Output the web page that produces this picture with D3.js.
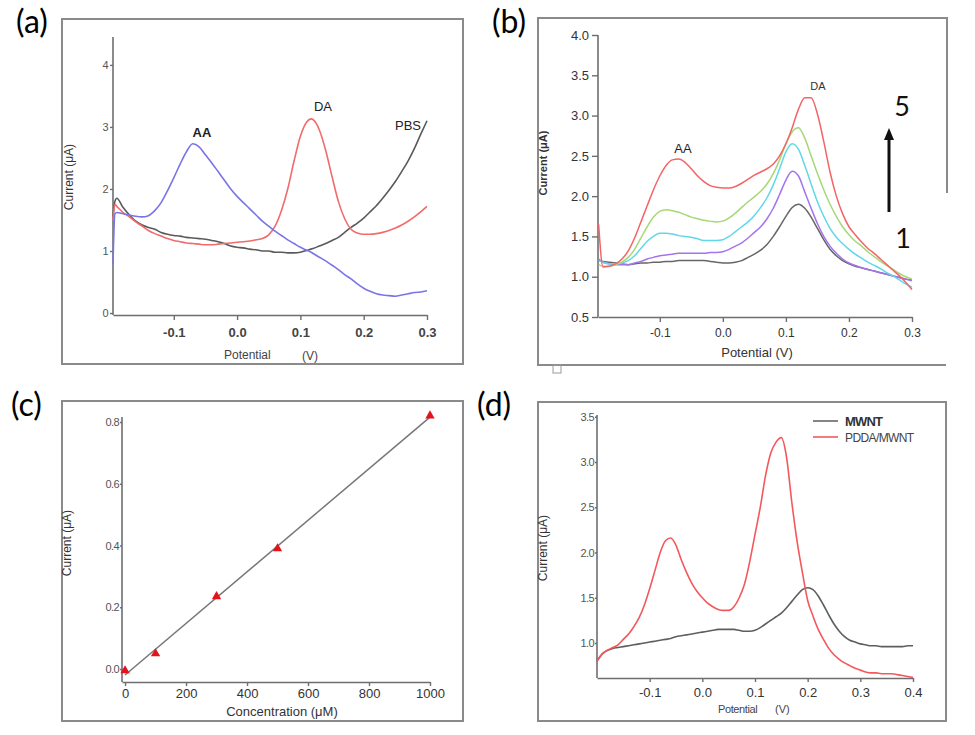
<!DOCTYPE html>
<html>
<head>
<meta charset="utf-8">
<script src="https://cdn.jsdelivr.net/npm/d3@7"></script>
<style>
body { margin: 0; background: #fff; }
text { font-family: "Liberation Sans", Arial, sans-serif; }
</style>
</head>
<body>
<div id="chart-area"></div>
<script>
// ---- panel (a): AA, DA and PBS alone ----
var aPot = [-0.196,-0.193,-0.19,-0.18,-0.17,-0.16,-0.15,-0.14,-0.13,-0.12,-0.11,-0.10,-0.09,-0.08,-0.07,-0.06,-0.05,-0.04,-0.03,-0.02,-0.01,
  0.00,0.01,0.02,0.03,0.04,0.05,0.06,0.07,0.08,0.09,0.10,0.11,0.117,0.12,0.13,0.14,0.15,0.16,0.17,0.18,0.19,0.20,0.21,0.22,0.23,0.24,0.25,0.26,0.27,0.28,0.29,0.30];
var aAA  = [0.80,1.60,1.62,1.60,1.58,1.56,1.55,1.57,1.65,1.78,1.97,2.18,2.40,2.60,2.73,2.68,2.55,2.42,2.28,2.14,2.00,
  1.88,1.78,1.68,1.58,1.48,1.40,1.32,1.25,1.18,1.12,1.06,1.01,0.98,0.96,0.90,0.84,0.77,0.70,0.62,0.55,0.47,0.40,0.35,0.31,0.29,0.28,0.27,0.29,0.31,0.33,0.34,0.36];
var aDA  = [1.50,1.75,1.72,1.62,1.55,1.47,1.40,1.33,1.28,1.24,1.20,1.17,1.15,1.13,1.12,1.11,1.10,1.10,1.11,1.12,1.13,
  1.14,1.15,1.16,1.18,1.20,1.26,1.40,1.65,2.00,2.45,2.85,3.08,3.13,3.12,2.95,2.62,2.20,1.80,1.52,1.35,1.29,1.27,1.27,1.28,1.30,1.33,1.37,1.42,1.48,1.55,1.63,1.72];
var aPBS = [1.55,1.80,1.85,1.70,1.58,1.48,1.42,1.38,1.35,1.30,1.27,1.25,1.24,1.22,1.21,1.20,1.19,1.17,1.15,1.12,1.08,
  1.06,1.05,1.03,1.02,1.00,1.00,0.98,0.98,0.97,0.97,0.98,1.01,1.03,1.04,1.08,1.12,1.17,1.22,1.30,1.38,1.45,1.53,1.63,1.73,1.85,1.98,2.12,2.28,2.45,2.65,2.88,3.10];
var aXTicks = [-0.1, 0.0, 0.1, 0.2, 0.3];
var aYTicks = [0, 1, 2, 3, 4];

// ---- panel (b): increasing concentrations 1..5 ----
var bPot = [-0.197,-0.19,-0.18,-0.17,-0.16,-0.15,-0.14,-0.13,-0.12,-0.11,-0.10,-0.09,-0.08,-0.07,-0.06,-0.05,-0.04,-0.03,-0.02,-0.01,
  0.00,0.01,0.02,0.03,0.04,0.05,0.06,0.07,0.08,0.09,0.10,0.11,0.12,0.13,0.14,0.15,0.16,0.17,0.18,0.19,0.20,0.21,0.22,0.23,0.24,0.25,0.26,0.27,0.28,0.29,0.30];
var b1 = [1.20,1.19,1.18,1.17,1.16,1.15,1.16,1.17,1.17,1.18,1.18,1.19,1.19,1.20,1.20,1.20,1.20,1.20,1.19,1.18,
  1.17,1.17,1.18,1.20,1.24,1.28,1.33,1.40,1.50,1.62,1.75,1.86,1.90,1.85,1.74,1.60,1.46,1.34,1.26,1.20,1.16,1.13,1.11,1.09,1.07,1.05,1.03,1.01,0.99,0.97,0.96];
var b2 = [1.22,1.18,1.16,1.15,1.15,1.15,1.17,1.19,1.22,1.24,1.26,1.27,1.28,1.29,1.29,1.29,1.29,1.29,1.30,1.30,
  1.31,1.34,1.38,1.42,1.48,1.55,1.62,1.72,1.85,2.02,2.20,2.31,2.25,2.05,1.85,1.66,1.50,1.38,1.29,1.22,1.17,1.14,1.11,1.09,1.07,1.05,1.03,1.01,0.99,0.97,0.95];
var b3 = [1.20,1.18,1.16,1.16,1.17,1.20,1.26,1.35,1.44,1.50,1.54,1.54,1.53,1.51,1.50,1.49,1.47,1.45,1.45,1.45,
  1.46,1.50,1.56,1.62,1.68,1.76,1.86,1.98,2.14,2.34,2.55,2.65,2.58,2.38,2.15,1.93,1.75,1.60,1.49,1.41,1.34,1.28,1.23,1.18,1.14,1.10,1.05,1.01,0.96,0.91,0.87];
var b4 = [1.15,1.13,1.13,1.15,1.18,1.24,1.34,1.48,1.62,1.74,1.81,1.83,1.82,1.80,1.77,1.74,1.72,1.70,1.69,1.68,
  1.69,1.73,1.79,1.86,1.93,1.99,2.06,2.15,2.28,2.45,2.65,2.80,2.85,2.72,2.50,2.28,2.08,1.90,1.75,1.62,1.52,1.44,1.38,1.31,1.25,1.19,1.14,1.09,1.04,1.00,0.97];
var b5 = [1.65,1.12,1.13,1.16,1.22,1.32,1.48,1.68,1.88,2.08,2.25,2.38,2.45,2.46,2.42,2.34,2.25,2.18,2.13,2.11,
  2.10,2.10,2.12,2.16,2.21,2.26,2.30,2.34,2.40,2.50,2.65,2.85,3.08,3.22,3.22,3.02,2.68,2.30,2.00,1.78,1.62,1.52,1.43,1.35,1.29,1.22,1.15,1.08,1.01,0.93,0.84];
var bXTicks = [-0.1, 0.0, 0.1, 0.2, 0.3];
var bYTicks = [0.5, 1.0, 1.5, 2.0, 2.5, 3.0, 3.5, 4.0];

// ---- panel (c): calibration ----
var cConc = [0, 100, 300, 500, 1000];
var cCur  = [-0.005, 0.05, 0.235, 0.39, 0.82];
var cXTicks = [0, 200, 400, 600, 800, 1000];
var cYTicks = [0.0, 0.2, 0.4, 0.6, 0.8];

// ---- panel (d): MWNT vs PDDA/MWNT ----
var dPot = [-0.20,-0.19,-0.18,-0.17,-0.16,-0.15,-0.14,-0.13,-0.12,-0.11,-0.10,-0.09,-0.08,-0.07,-0.06,-0.05,-0.04,-0.03,-0.02,-0.01,
  0.00,0.01,0.02,0.03,0.04,0.05,0.06,0.07,0.08,0.09,0.10,0.11,0.12,0.13,0.14,0.15,0.16,0.17,0.18,0.19,0.20,
  0.21,0.22,0.23,0.24,0.25,0.26,0.27,0.28,0.29,0.30,0.31,0.32,0.33,0.34,0.35,0.36,0.37,0.38,0.39,0.40];
var dMWNT = [0.80,0.88,0.92,0.94,0.95,0.96,0.97,0.98,0.99,1.00,1.01,1.02,1.03,1.04,1.05,1.07,1.08,1.09,1.10,1.11,
  1.12,1.13,1.14,1.15,1.15,1.15,1.15,1.14,1.13,1.13,1.14,1.17,1.21,1.25,1.29,1.33,1.39,1.46,1.53,1.59,1.61,
  1.59,1.52,1.42,1.31,1.21,1.13,1.07,1.03,1.01,0.99,0.98,0.97,0.97,0.96,0.96,0.96,0.96,0.96,0.97,0.97];
var dPDDA = [0.80,0.88,0.92,0.95,0.98,1.04,1.10,1.18,1.28,1.42,1.60,1.80,2.00,2.13,2.16,2.08,1.92,1.78,1.66,1.57,
  1.50,1.44,1.40,1.37,1.36,1.36,1.40,1.50,1.65,1.90,2.20,2.50,2.85,3.10,3.22,3.27,3.05,2.55,2.12,1.78,1.47,
  1.30,1.15,1.04,0.94,0.87,0.82,0.78,0.75,0.72,0.70,0.68,0.67,0.67,0.66,0.66,0.66,0.65,0.64,0.63,0.62];
var dXTicks = [-0.1, 0.0, 0.1, 0.2, 0.3, 0.4];
var dYTicks = [1.0, 1.5, 2.0, 2.5, 3.0, 3.5];

var svg = d3.select("#chart-area").append("svg")
  .attr("width", 975)
  .attr("height", 735);

var axisColor = "#6e6e6e";
var fmt1 = function(d) { return d.toFixed(1); };

function frame(x0, y0, x1, y1) {
  svg.append("rect")
    .attr("x", x0).attr("y", y0)
    .attr("width", x1 - x0).attr("height", y1 - y0)
    .attr("fill", "none")
    .attr("stroke", "#8a8a8a")
    .attr("stroke-width", 2);
}

// builds scales + axes for one panel
function panel(o) {
  var x = d3.scaleLinear().domain(o.xd).range(o.xr);
  var y = d3.scaleLinear().domain(o.yd).range(o.yr);

  var xa = svg.append("g")
    .attr("transform", "translate(0," + o.yr[0] + ")")
    .call(d3.axisBottom(x).tickValues(o.xt).tickFormat(o.xf)
      .tickSize(o.xts).tickPadding(o.xtp).tickSizeOuter(0));
  var ya = svg.append("g")
    .attr("transform", "translate(" + o.xr[0] + ",0)")
    .call(d3.axisLeft(y).tickValues(o.yt).tickFormat(o.yf)
      .tickSize(o.yts).tickPadding(o.ytp).tickSizeOuter(0));

  xa.attr("font-size", o.xfs).attr("font-family", null);
  ya.attr("font-size", o.yfs).attr("font-family", null);
  [xa, ya].forEach(function(a) {
    a.select(".domain").attr("stroke", axisColor).attr("stroke-width", 1.6);
    a.selectAll(".tick line").attr("stroke", axisColor).attr("stroke-width", 1.4);
    a.selectAll(".tick text").attr("fill", "#333");
  });
  if (o.xbold) xa.selectAll(".tick text").attr("font-weight", "bold").attr("fill", "#444");
  if (o.ycond) ya.selectAll(".tick text").attr("letter-spacing", "-0.6px").attr("fill", "#555");
  // y axis line reaches to the top of the plot
  ya.select(".domain").attr("d", "M0," + o.yr[0] + "V" + o.yr[1]);
  return { x: x, y: y };
}

function curve(p, xs, ys, color, w) {
  var pts = xs.map(function(d, i) { return [d, ys[i]]; });
  var line = d3.line()
    .x(function(d) { return p.x(d[0]); })
    .y(function(d) { return p.y(d[1]); })
    .curve(d3.curveMonotoneX);
  svg.append("path")
    .datum(pts)
    .attr("d", line)
    .attr("fill", "none")
    .attr("stroke", color)
    .attr("stroke-width", w || 1.6)
    .attr("stroke-linejoin", "round");
}

function label(x, y, t, size, opts) {
  opts = opts || {};
  var el = svg.append("text")
    .attr("x", x).attr("y", y)
    .attr("font-size", size)
    .attr("fill", opts.fill || "#222")
    .attr("text-anchor", opts.anchor || "start")
    .text(t);
  if (opts.weight) el.attr("font-weight", opts.weight);
  if (opts.font) el.style("font-family", opts.font);
  if (opts.rotate) el.attr("transform", "rotate(-90," + x + "," + y + ")");
  return el;
}

// ============ (a) ============
frame(62, 19, 463, 364);
var pa = panel({
  xd: [-0.196, 0.3], xr: [113, 427],
  yd: [-0.032, 4.45], yr: [315, 37],
  xt: aXTicks, xf: fmt1, xts: 5, xtp: 8, xfs: 13, xbold: true,
  yt: aYTicks, yf: function(d) { return d; }, yts: 3, ytp: 2, yfs: 11, ycond: true
});
curve(pa, aPot, aPBS, "#5a5a5a");
curve(pa, aPot, aDA, "#f26b6b");
curve(pa, aPot, aAA, "#7a74e6");
label(202, 137, "AA", 13, { anchor: "middle", weight: "bold" });
label(323, 111, "DA", 13, { anchor: "middle" });
label(408, 130, "PBS", 13, { anchor: "middle" });
label(224, 359, "Potential", 12, { fill: "#444" });
label(302, 360, "(V)", 12, { fill: "#444" });
label(73, 177, "Current (\u03bcA)", 12, { anchor: "middle", rotate: true, fill: "#333" });

// ============ (b) ============
svg.append("path")
  .attr("d", "M947,193V18H538V365H946")
  .attr("fill", "none").attr("stroke", "#8a8a8a").attr("stroke-width", 2);
svg.append("rect")
  .attr("x", 553).attr("y", 365).attr("width", 8).attr("height", 8)
  .attr("fill", "none").attr("stroke", "#999").attr("stroke-width", 1);
var pb = panel({
  xd: [-0.198, 0.3], xr: [598, 912],
  yd: [0.5, 4.0], yr: [317, 35],
  xt: bXTicks, xf: fmt1, xts: 5, xtp: 6, xfs: 12,
  yt: bYTicks, yf: fmt1, yts: 6, ytp: 3, yfs: 13
});
var bSeries = [b1, b2, b3, b4, b5];
var bColors = ["#666666", "#a374ee", "#5fd8e8", "#a6d876", "#f46466"];
bSeries.forEach(function(s, i) { curve(pb, bPot, s, bColors[i], 1.5); });
label(683, 153, "AA", 13, { anchor: "middle" });
label(818, 90, "DA", 11, { anchor: "middle", fill: "#333" });
label(757, 357, "Potential (V)", 13, { anchor: "middle", fill: "#333" });
label(547, 163, "Current (\u03bcA)", 11, { anchor: "middle", rotate: true, weight: "bold", fill: "#333" });
label(902, 116, "5", 27, { anchor: "middle", font: "Lato, sans-serif", fill: "#111" });
label(903, 248, "1", 27, { anchor: "middle", font: "Lato, sans-serif", fill: "#111" });
svg.append("line")
  .attr("x1", 889).attr("y1", 212).attr("x2", 889).attr("y2", 138)
  .attr("stroke", "#111").attr("stroke-width", 3);
svg.append("path")
  .attr("d", "M889,128L884,140H894Z")
  .attr("fill", "#111");

// ============ (c) ============
frame(62, 401, 463, 721);
var pc = panel({
  xd: [-10, 1000], xr: [122, 430],
  yd: [-0.042, 0.816], yr: [682, 417],
  xt: cXTicks, xf: function(d) { return d; }, xts: 4, xtp: 3, xfs: 13,
  yt: cYTicks, yf: fmt1, yts: 2, ytp: 1, yfs: 11, ycond: true
});
// least squares fit of the calibration points
var mx = d3.mean(cConc), my = d3.mean(cCur);
var sxy = d3.sum(cConc, function(d, i) { return (d - mx) * (cCur[i] - my); });
var sxx = d3.sum(cConc, function(d) { return (d - mx) * (d - mx); });
var slope = sxy / sxx, icpt = my - slope * mx;
var fitX = [cConc[0], cConc[cConc.length - 1]];
curve(pc, fitX, fitX.map(function(d) { return icpt + slope * d; }), "#777", 1.5);
svg.selectAll(".tri")
  .data(cConc)
  .enter().append("path")
  .attr("class", "tri")
  .attr("d", d3.symbol().type(d3.symbolTriangle).size(38))
  .attr("transform", function(d, i) { return "translate(" + pc.x(d) + "," + pc.y(cCur[i]) + ")"; })
  .attr("fill", "#e3121b");
label(282, 716, "Concentration (\u03bcM)", 13, { anchor: "middle", fill: "#333" });
label(71, 543, "Current (\u03bcA)", 12, { anchor: "middle", rotate: true, fill: "#333" });

// ============ (d) ============
frame(538, 402, 946, 721);
var pd = panel({
  xd: [-0.2, 0.4], xr: [597, 913],
  yd: [0.613, 3.52], yr: [678, 415],
  xt: dXTicks, xf: fmt1, xts: 4, xtp: 6, xfs: 13,
  yt: dYTicks, yf: fmt1, yts: 2, ytp: 1, yfs: 11, ycond: true
});
curve(pd, dPot, dMWNT, "#5e5e5e");
curve(pd, dPot, dPDDA, "#f2585c");
svg.append("line").attr("x1", 813).attr("x2", 838).attr("y1", 421).attr("y2", 421)
  .attr("stroke", "#666").attr("stroke-width", 1.6);
svg.append("line").attr("x1", 813).attr("x2", 838).attr("y1", 437).attr("y2", 437)
  .attr("stroke", "#f2585c").attr("stroke-width", 1.6);
label(845, 426, "MWNT", 13, { weight: "bold", fill: "#333" }).attr("letter-spacing", "-0.8px");
label(845, 442, "PDDA/MWNT", 12, { fill: "#444" }).attr("letter-spacing", "-0.6px");
label(718, 713, "Potential", 11, { fill: "#444" }).attr("letter-spacing", "-0.4px");
label(775, 713, "(V)", 11, { fill: "#444" });
label(547, 548, "Current (\u03bcA)", 12, { anchor: "middle", rotate: true, fill: "#333" });

// panel letters
label(16, 33, "(a)", 32, { font: "Lato, sans-serif", fill: "#000" });
label(492, 33, "(b)", 32, { font: "Lato, sans-serif", fill: "#000" });
label(11, 416, "(c)", 32, { font: "Lato, sans-serif", fill: "#000" });
label(477, 416, "(d)", 32, { font: "Lato, sans-serif", fill: "#000" });
</script>
</body>
</html>
